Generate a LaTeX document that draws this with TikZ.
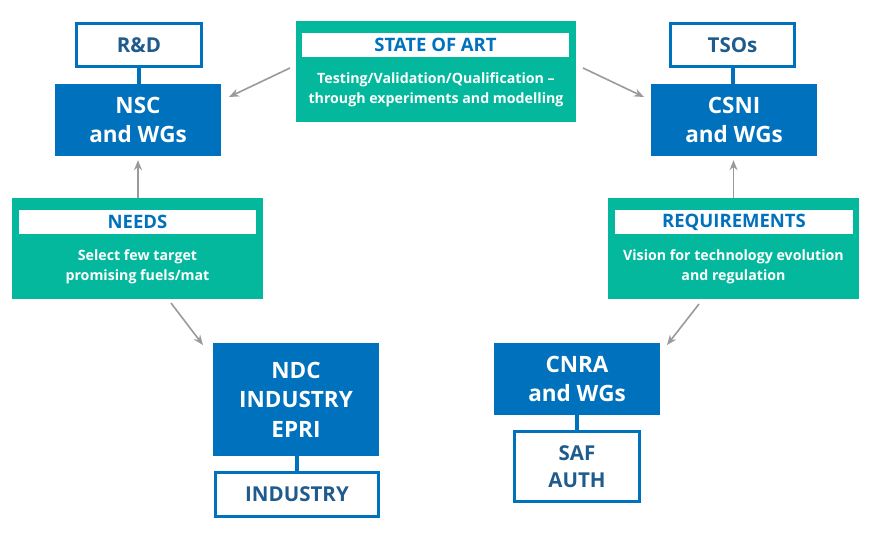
\documentclass[tikz,border=0pt]{standalone}
\usepackage{fontspec}
\setmainfont{Open Sans}
\usetikzlibrary{arrows.meta}
\definecolor{oblue}{HTML}{0071BC}
\definecolor{oteal}{HTML}{03B89C}
\definecolor{dtext}{HTML}{1F5B8C}
\definecolor{agray}{HTML}{9A9A9A}
\tikzset{
  bluebox/.style={fill=oblue, text=white, inner sep=0pt, align=center,
    font=\bfseries\fontsize{22.5}{29.5}\selectfont},
  outbox/.style={draw=oblue, line width=3pt, fill=white, text=dtext, inner sep=0pt, align=center,
    font=\bfseries\fontsize{20.5}{27}\selectfont},
  tealbox/.style={fill=oteal, inner sep=0pt},
  band/.style={fill=white, inner sep=0pt, text=oblue, font=\bfseries\fontsize{18.5}{20}\selectfont},
  bodytxt/.style={text=white, align=center, inner sep=0pt, font=\bfseries\fontsize{14.2}{20}\selectfont},
  link/.style={draw=oblue, line width=4pt},
  arr/.style={draw=agray, line width=1.6pt, -{Stealth[length=10pt,width=8pt]}}
}
\begin{document}
\begin{tikzpicture}[x=1pt,y=-1pt]
\useasboundingbox (0,0) rectangle (876,533);
% left column
\node[outbox, minimum width=125pt, minimum height=43pt] (rd) at (139,45) {R\&D};
\node[bluebox, minimum width=166pt, minimum height=72pt] (nsc) at (138,120) {NSC\\and WGs};
\draw[link] (rd.south) -- (rd.south |- nsc.north);
% right column
\node[outbox, minimum width=124pt, minimum height=43pt] (tso) at (732.5,45) {TSOs};
\node[bluebox, minimum width=166pt, minimum height=72pt] (csni) at (734,120) {CSNI\\and WGs};
\draw[link] (tso.south) -- (tso.south |- csni.north);
% state of art
\node[tealbox, minimum width=280pt, minimum height=101pt] (soa) at (436,71.5) {};
\node[band, minimum width=267pt, minimum height=24pt] (soat) at (435.5,45) {STATE OF ART};
\node[bodytxt] (soab) at (436,90) {Testing/Validation/Qualification –\\through experiments and modelling};
% needs
\node[tealbox, minimum width=251pt, minimum height=101pt] (needs) at (137.5,248.5) {};
\node[band, minimum width=237pt, minimum height=24pt] (needst) at (137.5,222) {NEEDS};
\node[bodytxt] (needsb) at (137.5,267) {Select few target\\promising fuels/mat};
% requirements
\node[tealbox, minimum width=251pt, minimum height=101pt] (req) at (733.5,248.5) {};
\node[band, minimum width=238pt, minimum height=24pt] (reqt) at (734,222) {REQUIREMENTS};
\node[bodytxt] (reqb) at (733.5,267) {Vision for technology evolution\\and regulation};
% NDC
\node[bluebox, minimum width=166pt, minimum height=113pt] (ndc) at (296,399.5) {NDC\\INDUSTRY\\EPRI};
\node[outbox, minimum width=163pt, minimum height=44pt] (ind) at (297,494.5) {INDUSTRY};
\draw[link] (ndc.south -| ind.north) -- (ind.north);
% CNRA
\node[bluebox, minimum width=166pt, minimum height=72pt] (cnra) at (577,379) {CNRA\\and WGs};
\node[outbox, minimum width=125pt, minimum height=70pt] (saf) at (577,466.5) {SAF\\AUTH};
\draw[link] (cnra.south) -- (saf.north);
% arrows
\coordinate (a1s) at (290,68);
\coordinate (a1e) at (229,97);
\draw[arr] (a1s) -- (a1e);
\coordinate (a2s) at (583,68);
\coordinate (a2e) at (644,97);
\draw[arr] (a2s) -- (a2e);
\draw[arr, shorten >=4pt] (needs.north -| nsc.south) -- (nsc.south);
\draw[arr, shorten >=4pt] (req.north) -- (req.north |- csni.south);
\coordinate (a3s) at (171,303);
\coordinate (a3e) at (203,345);
\draw[arr] (a3s) -- (a3e);
\coordinate (a4s) at (699,304);
\coordinate (a4e) at (667,345);
\draw[arr] (a4s) -- (a4e);
\end{tikzpicture}
\end{document}
